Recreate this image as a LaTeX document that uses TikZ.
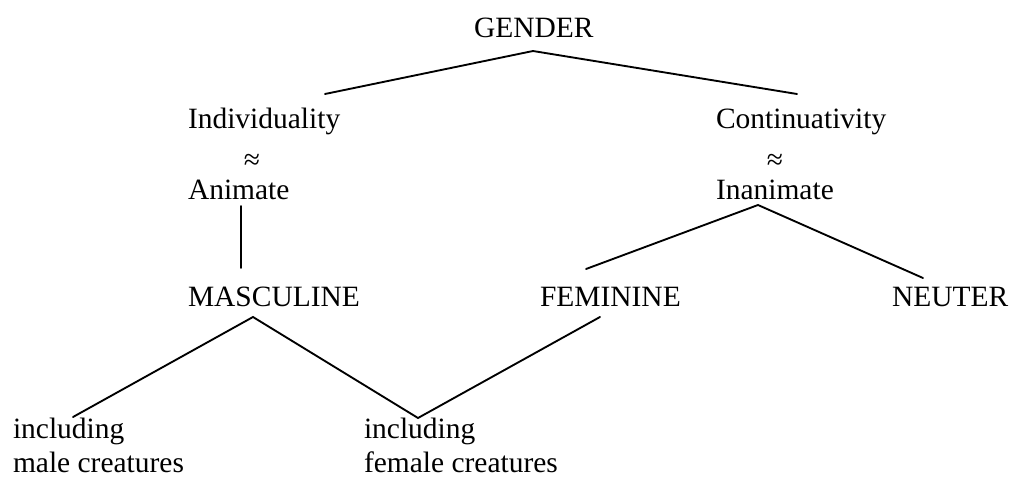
\documentclass[tikz,border=0pt]{standalone}
\usepackage{fontspec}
\setmainfont{Liberation Serif}
\begin{document}
\begin{tikzpicture}[x=0.75pt,y=-0.75pt,
  lbl/.style={anchor=base west,inner sep=0pt,outer sep=0pt,font=\fontsize{22.1pt}{26pt}\selectfont},
  approx/.style={anchor=base,inner sep=0pt,outer sep=0pt,font=\fontsize{22.1pt}{26pt}\selectfont},
  edge/.style={line width=1.4pt,line cap=round}]
\useasboundingbox (0,0) rectangle (1010,478);
% text nodes
\node[lbl] (gender) at (474,38) {GENDER};
\node[lbl] (indiv) at (188,128) {Individuality};
\node[approx] (ap1) at (252,169) {≈};
\node[lbl] (anim) at (188,199) {Animate};
\node[lbl] (cont) at (716,128) {Continuativity};
\node[approx] (ap2) at (775,169) {≈};
\node[lbl] (inan) at (716,199) {Inanimate};
\node[lbl] (masc) at (188,306) {MASCULINE};
\node[lbl] (fem) at (540,306) {FEMININE};
\node[lbl] (neut) at (892,306) {NEUTER};
\node[lbl,align=left] (male) at (13,472) {including\\[-0.5pt]male creatures};
\node[lbl,align=left] (female) at (364,472) {including\\[-0.5pt]female creatures};
% connector end points
\coordinate (gtop) at (533,51);
\coordinate (gl) at (325,94);
\coordinate (gr) at (797,94);
\coordinate (at) at (241,206);
\coordinate (ab) at (241,268);
\coordinate (itop) at (758,205);
\coordinate (il) at (586,269);
\coordinate (ir) at (923,278);
\coordinate (mtop) at (253,317);
\coordinate (ml) at (73,417);
\coordinate (mf) at (418,418);
\coordinate (ftop) at (600,317);
% connectors
\draw[edge] (gl) -- (gtop) -- (gr);
\draw[edge] (at) -- (ab);
\draw[edge] (il) -- (itop) -- (ir);
\draw[edge] (ml) -- (mtop) -- (mf) -- (ftop);
\end{tikzpicture}
\end{document}
